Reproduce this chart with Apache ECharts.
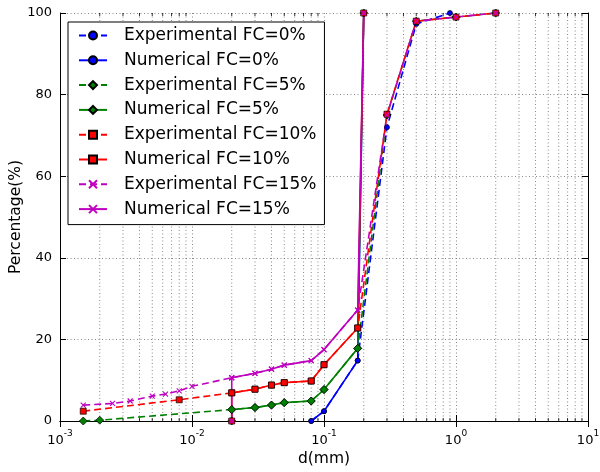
<!DOCTYPE html>
<html>
<head>
<meta charset="utf-8">
<script src="https://cdn.jsdelivr.net/npm/echarts@6/dist/echarts.min.js"></script>
<style>html,body{margin:0;padding:0;background:#fff}#c{width:600px;height:472px}</style>
</head>
<body>
<div id="c"></div>
<script>
// ---- data ----
const names = ['Experimental FC=0%','Numerical FC=0%','Experimental FC=5%','Numerical FC=5%',
               'Experimental FC=10%','Numerical FC=10%','Experimental FC=15%','Numerical FC=15%'];

const expX0  = [0.08, 0.1, 0.18, 0.3, 0.5, 0.9];
const expY0  = [0, 2.4, 14.8, 72, 97.3, 100];
const numX0  = [0.08, 0.1, 0.18, 0.2];
const numY0  = [0, 2.4, 14.8, 100];

const expX5  = [0.0015, 0.002, 0.02, 0.03, 0.04, 0.05, 0.08, 0.1, 0.18, 0.3, 0.5, 1, 2];
const expY5  = [0, 0.2, 2.8, 3.3, 3.9, 4.5, 4.9, 7.7, 17.8, 75, 98, 99, 100];
const numX5  = [0.02, 0.02, 0.03, 0.04, 0.05, 0.08, 0.1, 0.18, 0.2];
const numY5  = [0, 2.8, 3.3, 3.9, 4.5, 4.9, 7.7, 17.8, 100];

const expX10 = [0.0015, 0.008, 0.02, 0.03, 0.04, 0.05, 0.08, 0.1, 0.18, 0.3, 0.5, 1, 2];
const expY10 = [2.4, 5.2, 6.9, 7.8, 8.8, 9.4, 9.8, 13.8, 22.8, 75.2, 98, 99, 100];
const numX10 = [0.02, 0.02, 0.03, 0.04, 0.05, 0.08, 0.1, 0.18, 0.2];
const numY10 = [0, 6.9, 7.8, 8.8, 9.4, 9.8, 13.8, 22.8, 100];

const expX15 = [0.0015, 0.0025, 0.0034, 0.005, 0.0063, 0.008, 0.01, 0.02, 0.03, 0.04, 0.05, 0.08, 0.1, 0.18, 0.3, 0.5, 1, 2];
const expY15 = [3.9, 4.3, 4.9, 6.1, 6.6, 7.4, 8.5, 10.6, 11.7, 12.7, 13.7, 14.8, 17.5, 27.2, 75, 98, 99, 100];
const numX15 = [0.02, 0.02, 0.03, 0.04, 0.05, 0.08, 0.1, 0.18, 0.2];
const numY15 = [0, 10.6, 11.7, 12.7, 13.7, 14.8, 17.5, 27.2, 100];

const xMin = 0.001, xMax = 10;
const yTicks = [0, 20, 40, 60, 80, 100];
const decades = [0.001, 0.01, 0.1, 1, 10];
const minorMult = [2, 3, 4, 5, 6, 7, 8, 9];

// ---- build ----
const minorX = [];
decades.slice(0, -1).forEach(d => minorMult.forEach(m => minorX.push(+(d * m).toPrecision(3))));

const zip = (xs, ys) => xs.map((x, i) => [x, ys[i]]);
const COL = {b:'#0000ff', g:'#008000', r:'#ff0000', m:'#bf00bf'};
const xPath = 'path://M0,0L10,10M10,0L0,10';

function mk(name, xs, ys, color, symbol, size, dashed, edge) {
  const isX = symbol === xPath;
  return {
    name, type:'line', data: zip(xs, ys),
    symbol, symbolSize: size, showSymbol:true,
    lineStyle:{color, width:1.6, type: dashed ? [7,4] : 'solid'},
    itemStyle:{color: isX ? 'rgba(0,0,0,0)' : color, borderColor: isX ? color : (edge || color), borderWidth: isX ? 1.1 : 0.7, opacity:1},
    emphasis:{disabled:true}, animation:false, clip:true
  };
}

const series = [
  mk(names[0], expX0, expY0, COL.b, 'circle', 5, true, '#000'),
  mk(names[1], numX0, numY0, COL.b, 'circle', 5, false, '#000'),
  mk(names[2], expX5, expY5, COL.g, 'diamond', 8, true, '#000'),
  mk(names[3], numX5, numY5, COL.g, 'diamond', 8, false, '#000'),
  mk(names[4], expX10, expY10, COL.r, 'rect', 6, true, '#000'),
  mk(names[5], numX10, numY10, COL.r, 'rect', 6, false, '#000'),
  mk(names[6], expX15, expY15, COL.m, xPath, 5, true),
  mk(names[7], numX15, numY15, COL.m, xPath, 5, false)
];

series.unshift({
  type:'custom', silent:true, z:0, animation:false, clip:false,
  data: minorX.map(v => [v, 0]),
  encode:{x:0, y:1},
  renderItem(params, api) {
    const v = api.value(0);
    const b = api.coord([v, 0]);
    const t = api.coord([v, 100]);
    return {type:'group', children:[
      {type:'line', shape:{x1:b[0], y1:t[1], x2:b[0], y2:b[1]}, style:{stroke:'#555', lineWidth:0.7, lineDash:[1,2.5]}},
      {type:'line', shape:{x1:b[0], y1:b[1], x2:b[0], y2:b[1]-3}, style:{stroke:'#000', lineWidth:0.8}},
      {type:'line', shape:{x1:b[0], y1:t[1], x2:b[0], y2:t[1]+3}, style:{stroke:'#000', lineWidth:0.8}}
    ]};
  }
});

const font = 'DejaVu Sans';
const chart = echarts.init(document.getElementById('c'), null, {renderer:'canvas'});
chart.setOption({
  backgroundColor:'#fff',
  animation:false,
  textStyle:{fontFamily:font},
  grid:{left:60, right:12, top:13, bottom:51, containLabel:false, outerBoundsMode:'none'},
  legend:{
    data: names, orient:'vertical', left:68, top:22,
    backgroundColor:'#fff', borderColor:'#000', borderWidth:1, borderRadius:0,
    padding:[5, 8, 7, 10], itemGap:7.8, itemWidth:28, itemHeight:10,
    textStyle:{fontFamily:font, fontSize:17, color:'#000', padding:[0,0,0,12]},
    selectedMode:false
  },
  xAxis:[{
    type:'log', logBase:10, min:xMin, max:xMax,
    name:'d(mm)', nameLocation:'middle', nameGap:30, nameMoveOverlap:false,
    nameTextStyle:{fontFamily:font, fontSize:15.5, color:'#000'},
    axisLine:{show:true, lineStyle:{color:'#000', width:1}},
    axisTick:{show:true, inside:true, length:6, lineStyle:{color:'#000'}},
    axisLabel:{
      margin:8, color:'#000',
      formatter: v => '{b|10}{s|' + Math.round(Math.log10(v)) + '}',
      rich:{b:{fontFamily:font, fontSize:13, color:'#000', verticalAlign:'bottom', lineHeight:18},
            s:{fontFamily:font, fontSize:9, color:'#000', verticalAlign:'top', lineHeight:18}}
    },
    splitLine:{show:true, lineStyle:{color:'#555', width:0.7, type:[1,2.5]}}
  },{
    type:'log', logBase:10, min:xMin, max:xMax, position:'top',
    axisLine:{show:true, lineStyle:{color:'#000', width:1}},
    axisTick:{show:true, inside:true, length:6, lineStyle:{color:'#000'}},
    axisLabel:{show:false}, splitLine:{show:false}
  }],
  yAxis:[{
    type:'value', min:yTicks[0], max:yTicks[yTicks.length-1], interval:20,
    name:'Percentage(%)', nameLocation:'middle', nameGap:36, nameMoveOverlap:false,
    nameTextStyle:{fontFamily:font, fontSize:15.5, color:'#000'},
    axisLine:{show:true, lineStyle:{color:'#000', width:1}},
    axisTick:{show:true, inside:true, length:6, lineStyle:{color:'#000'}},
    axisLabel:{fontFamily:font, fontSize:13, color:'#000', margin:8},
    splitLine:{show:true, lineStyle:{color:'#555', width:0.7, type:[1,2.5]}}
  },{
    type:'value', min:yTicks[0], max:yTicks[yTicks.length-1], interval:20, position:'right',
    axisLine:{show:true, lineStyle:{color:'#000', width:1}},
    axisTick:{show:true, inside:true, length:6, lineStyle:{color:'#000'}},
    axisLabel:{show:false}, splitLine:{show:false}
  }],
  series
});
</script>
</body>
</html>
